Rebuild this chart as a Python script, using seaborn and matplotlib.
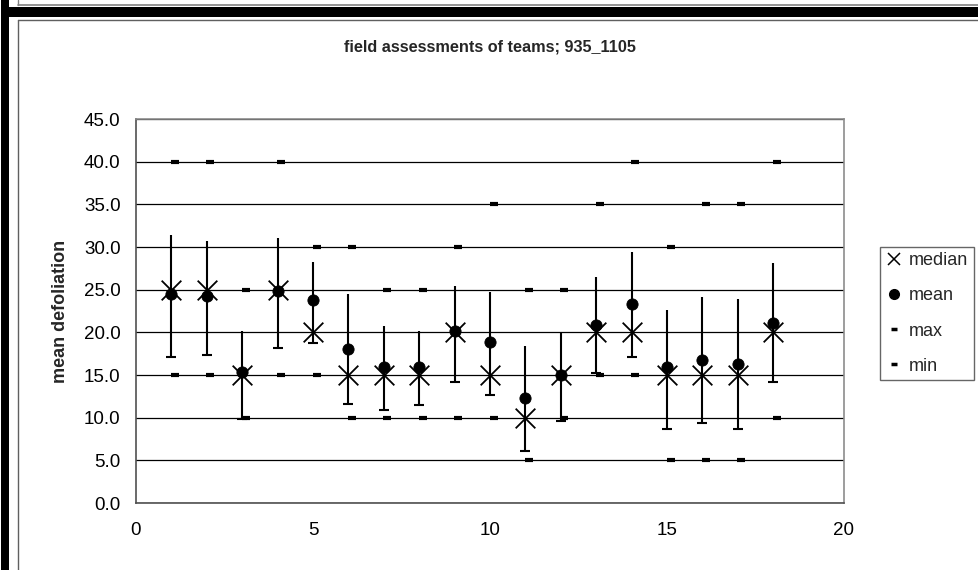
import matplotlib
matplotlib.use("Agg")
import matplotlib.pyplot as plt
from matplotlib.lines import Line2D
from matplotlib.patches import Rectangle
from matplotlib.ticker import FormatStrFormatter, MultipleLocator
import pandas as pd
import seaborn as sns

# values
teams = list(range(1, 19))
median = [25, 25, 15, 25, 20, 15, 15, 15, 20, 15, 10, 15, 20, 20, 15, 15, 15, 20]
mean = [24.5, 24.3, 15.4, 24.9, 23.8, 18.0, 15.9, 15.9, 20.1, 18.9,
        12.3, 15.0, 20.9, 23.3, 15.9, 16.7, 16.3, 21.1]
max_val = [40, 40, 25, 40, 30, 30, 25, 25, 30, 35, 25, 25, 35, 40, 30, 35, 35, 40]
min_val = [15, 15, 10, 15, 15, 10, 10, 10, 10, 10, 5, 10, 15, 15, 5, 5, 5, 10]
bar_top = [31.4, 30.7, 20.2, 31.1, 28.3, 24.5, 20.8, 20.1, 25.4, 24.7,
           18.4, 19.9, 26.5, 29.4, 22.6, 24.1, 23.9, 28.1]
bar_bottom = [17.1, 17.3, 9.8, 18.2, 18.8, 11.6, 10.9, 11.5, 14.2, 12.7,
              6.1, 9.6, 15.2, 17.1, 8.7, 9.4, 8.7, 14.2]

df = pd.DataFrame({"team": teams, "median": median, "mean": mean,
                   "max": max_val, "min": min_val,
                   "top": bar_top, "bottom": bar_bottom})
dash_offset = 0.1
df["team_dash"] = df["team"] + dash_offset

sns.set_style("white")
plt.rcParams["font.family"] = ["Liberation Sans", "DejaVu Sans"]

W, H = 979, 570
fig = plt.figure(figsize=(W / 100, H / 100), dpi=100)
ax = fig.add_axes([136 / W, 1 - 503 / H, 708 / W, 384 / H])


def fx(px):
    return px / W


def fy(py):
    return 1 - py / H


# page decoration around the chart
fig.add_artist(Rectangle((fx(1), 0), fx(8), 1, transform=fig.transFigure,
                         color="black", lw=0))
fig.add_artist(Rectangle((fx(4), fy(17)), 1, fy(7) - fy(17),
                         transform=fig.transFigure, color="black", lw=0))
fig.add_artist(Line2D([fx(18), 1], [fy(5), fy(5)], transform=fig.transFigure,
                      color="#808080", lw=1.2))
fig.add_artist(Line2D([fx(18), fx(18)], [1, fy(5)], transform=fig.transFigure,
                      color="#808080", lw=1.0))
fig.add_artist(Line2D([fx(17.5), 1], [fy(19.5), fy(19.5)],
                      transform=fig.transFigure, color="#606060", lw=1.0))
fig.add_artist(Line2D([fx(17.5), fx(17.5)], [fy(19.5), 0],
                      transform=fig.transFigure, color="#606060", lw=1.0))

# error bars with a cap at the bottom only
ax.vlines(df["team"], df["bottom"], df["top"], color="black", lw=1.5, zorder=3)
ax.plot(df["team"], df["bottom"], ls="none", marker="_", ms=7.5, mew=1.5,
        color="black", zorder=3)

sns.scatterplot(data=df, x="team_dash", y="max", marker="_", s=40,
                linewidth=3, color="black", ax=ax, zorder=4)
sns.scatterplot(data=df, x="team_dash", y="min", marker="_", s=40,
                linewidth=3, color="black", ax=ax, zorder=4)
sns.scatterplot(data=df, x="team", y="mean", marker="o", s=65,
                color="black", edgecolor="black", ax=ax, zorder=5)
sns.scatterplot(data=df, x="team", y="median", marker="x", s=200,
                linewidth=1.3, color="black", ax=ax, zorder=6)

ax.set_xlim(0, 20)
ax.set_ylim(0, 45)
ax.xaxis.set_major_locator(MultipleLocator(5))
ax.yaxis.set_major_locator(MultipleLocator(5))
ax.yaxis.set_major_formatter(FormatStrFormatter("%.1f"))
ax.grid(axis="y", color="black", lw=0.9)
ax.set_axisbelow(True)
for side in ["top", "right"]:
    ax.spines[side].set_color("#8c8c8c")
    ax.spines[side].set_linewidth(1.2)
for side in ["left", "bottom"]:
    ax.spines[side].set_color("#505050")
    ax.spines[side].set_linewidth(1.2)
ax.tick_params(axis="both", direction="out", length=4, width=1,
               color="#505050", labelsize=13.5, labelcolor="black")
ax.tick_params(axis="y", pad=7)
ax.tick_params(axis="x", pad=10)
ax.set_xlabel("")
ax.set_ylabel("mean defoliation", fontsize=13, fontweight="bold", labelpad=11)

fig.text(0.5, fy(47), "field assessments of teams; 935_1105", ha="center",
         va="center", fontsize=11.7, fontweight="bold")

handles = [
    Line2D([], [], ls="none", marker="x", ms=8, mew=1.1, color="black"),
    Line2D([], [], ls="none", marker="o", ms=7, color="black"),
    Line2D([], [], ls="none", marker="_", ms=5, mew=2.5, color="black"),
    Line2D([], [], ls="none", marker="_", ms=5, mew=2.5, color="black"),
]
leg = ax.legend(handles, ["median", "mean", "max", "min"],
                loc="upper left", bbox_to_anchor=(fx(880), fy(247)),
                bbox_transform=fig.transFigure, fontsize=13, frameon=True,
                fancybox=False, borderpad=0.3, labelspacing=1.0,
                handlelength=0.9, handletextpad=0.4, borderaxespad=0)
leg.get_frame().set_edgecolor("#404040")
leg.get_frame().set_linewidth(1.0)

fig.savefig("out.png", dpi=100)
